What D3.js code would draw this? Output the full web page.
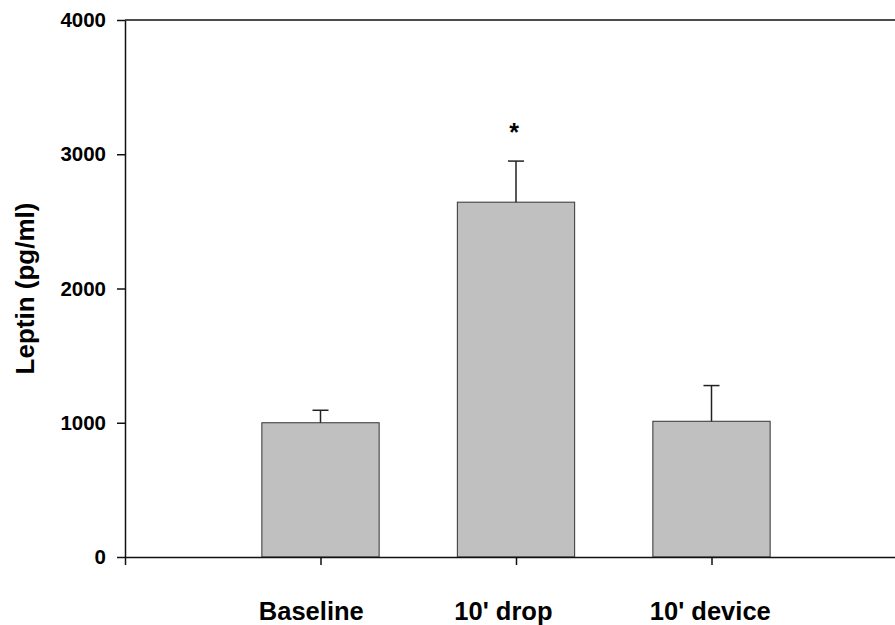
<!DOCTYPE html>
<html>
<head>
<meta charset="utf-8">
<script src="https://cdn.jsdelivr.net/npm/d3@7"></script>
<style>
  body { margin: 0; background: #fff; }
  svg text { font-family: "Liberation Sans", Arial, Helvetica, sans-serif; font-weight: bold; fill: #000; }
</style>
</head>
<body>
<svg id="chart" width="895" height="625"></svg>
<script>
// values
const categories = ["Baseline", "10' drop", "10' device"];
const means = [1000, 2643, 1011];
const sems = [93, 306, 266];
const marks = ["", "*", ""];
const yTicks = [0, 1000, 2000, 3000, 4000];

const svg = d3.select("#chart");

// x: categories sit at 1,2,3 on a 0..4 linear axis (right end is off the page)
const x = d3.scaleLinear().domain([0, 4]).range([125, 907]);
const y = d3.scaleLinear().domain([0, 4000]).range([557, 20]);
const barW = (x(1) - x(0)) * 0.6;

const data = categories.map((c, i) => ({ name: c, i: i + 1, mean: means[i], sem: sems[i], mark: marks[i] }));

// bars
svg.append("g").selectAll("rect")
  .data(data)
  .join("rect")
  .attr("x", d => x(d.i) - barW / 2)
  .attr("y", d => y(d.mean))
  .attr("width", barW)
  .attr("height", d => y(0) - y(d.mean))
  .attr("fill", "#c0c0c0")
  .attr("stroke", "#333")
  .attr("stroke-width", 1);

// error bars (upper only)
const eb = svg.append("g").attr("stroke", "#222").attr("stroke-width", 1.5);
eb.selectAll("line.v")
  .data(data)
  .join("line")
  .attr("class", "v")
  .attr("x1", d => x(d.i)).attr("x2", d => x(d.i))
  .attr("y1", d => y(d.mean)).attr("y2", d => y(d.mean + d.sem));
eb.selectAll("line.cap")
  .data(data)
  .join("line")
  .attr("class", "cap")
  .attr("x1", d => x(d.i) - 8).attr("x2", d => x(d.i) + 8)
  .attr("y1", d => y(d.mean + d.sem)).attr("y2", d => y(d.mean + d.sem));

// significance marks
svg.append("g").selectAll("text")
  .data(data.filter(d => d.mark))
  .join("text")
  .attr("x", d => x(d.i) - 2)
  .attr("y", d => y(d.mean + d.sem) - 20)
  .attr("text-anchor", "middle")
  .style("font-size", "25px")
  .text(d => d.mark);

// y axis
const yAxis = svg.append("g")
  .attr("transform", `translate(${x(0)},0)`)
  .call(d3.axisLeft(y).tickValues(yTicks).tickFormat(d3.format("d"))
    .tickSize(8).tickPadding(11).tickSizeOuter(0));
yAxis.selectAll("text").style("font-size", "20.5px");

// x axis
const xAxis = svg.append("g")
  .attr("transform", `translate(0,${y(0)})`)
  .call(d3.axisBottom(x).tickValues([0, 1, 2, 3]).tickFormat("").tickSize(8).tickSizeOuter(0));

svg.selectAll(".domain, .tick line").attr("stroke", "#111").attr("stroke-width", 1.5);

// top and right frame
svg.append("line")
  .attr("x1", x(0)).attr("x2", x(4))
  .attr("y1", y(4000)).attr("y2", y(4000))
  .attr("stroke", "#111").attr("stroke-width", 1.5);
svg.append("line")
  .attr("x1", x(4)).attr("x2", x(4))
  .attr("y1", y(4000)).attr("y2", y(0))
  .attr("stroke", "#111").attr("stroke-width", 1.5);

// category labels
svg.append("g").selectAll("text")
  .data(data)
  .join("text")
  .attr("x", d => x(d.i) - barW / 2 - 3)
  .attr("y", 620)
  .style("font-size", "25.5px")
  .text(d => d.name);

// y title
svg.append("text")
  .attr("transform", `translate(34,${(y(0) + y(4000)) / 2 + 0}) rotate(-90)`)
  .attr("text-anchor", "middle")
  .style("font-size", "26px")
  .text("Leptin (pg/ml)");
</script>
</body>
</html>
